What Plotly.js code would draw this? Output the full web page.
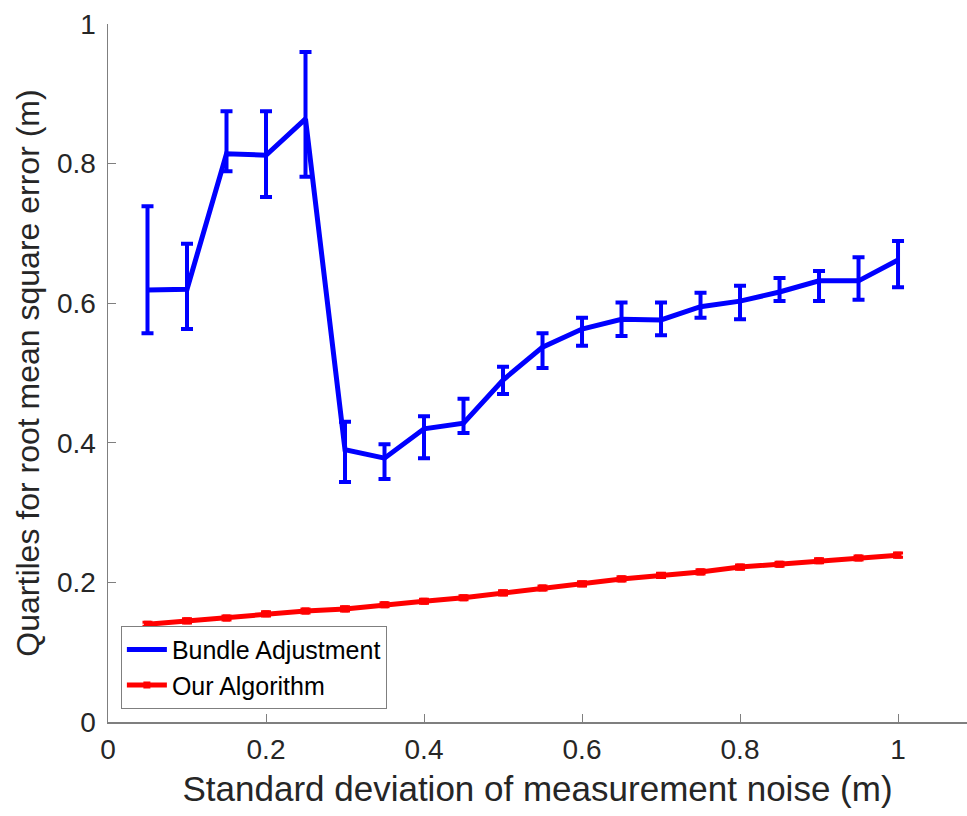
<!DOCTYPE html>
<html>
<head>
<meta charset="utf-8">
<script src="https://cdn.plot.ly/plotly-3.0.1.min.js"></script>
<style>html,body{margin:0;padding:0;background:#fff;}#chart{width:967px;height:816px;}</style>
</head>
<body>
<div id="chart"></div>
<script>
const noise = [0.05,0.10,0.15,0.20,0.25,0.30,0.35,0.40,0.45,0.50,0.55,0.60,0.65,0.70,0.75,0.80,0.85,0.90,0.95,1.00];
const baMedian = [0.619,0.620,0.814,0.812,0.864,0.390,0.378,0.420,0.428,0.490,0.537,0.563,0.577,0.576,0.595,0.603,0.616,0.632,0.632,0.662];
const baUpper  = [0.739,0.685,0.875,0.875,0.960,0.430,0.398,0.438,0.463,0.509,0.557,0.579,0.601,0.601,0.615,0.625,0.636,0.646,0.666,0.689];
const baLower  = [0.557,0.563,0.789,0.752,0.781,0.344,0.348,0.378,0.414,0.470,0.507,0.539,0.553,0.554,0.579,0.577,0.603,0.603,0.605,0.623];
const ourMedian = [0.140,0.145,0.149,0.155,0.159,0.162,0.168,0.173,0.178,0.185,0.192,0.198,0.205,0.210,0.215,0.222,0.226,0.231,0.235,0.239];
const ourUpper  = [0.143,0.148,0.152,0.158,0.162,0.165,0.171,0.176,0.181,0.188,0.195,0.201,0.208,0.213,0.218,0.225,0.229,0.234,0.238,0.242];
const ourLower  = [0.137,0.142,0.146,0.152,0.156,0.159,0.165,0.170,0.175,0.182,0.189,0.195,0.202,0.207,0.212,0.219,0.223,0.228,0.232,0.236];
const xTicks = [0,0.2,0.4,0.6,0.8,1];
const xTickText = ['0','0.2','0.4','0.6','0.8','1'];
const yTicks = [0,0.2,0.4,0.6,0.8,1];
const yTickText = ['0','0.2','0.4','0.6','0.8','1'];

const diff = (a,b)=>a.map((v,i)=>+(v-b[i]).toFixed(4));

const traces = [
  {x: noise, y: baMedian, name: 'Bundle Adjustment', type: 'scatter', mode: 'lines',
   line: {color: '#0000ff', width: 5},
   error_y: {type: 'data', symmetric: false, array: diff(baUpper, baMedian), arrayminus: diff(baMedian, baLower),
             color: '#0000ff', thickness: 4, width: 6}},
  {x: noise, y: ourMedian, name: 'Our Algorithm', type: 'scatter', mode: 'lines+markers',
   line: {color: '#ff0000', width: 5},
   marker: {symbol: 'square', size: 7, color: '#ff0000'},
   error_y: {type: 'data', symmetric: false, array: diff(ourUpper, ourMedian), arrayminus: diff(ourMedian, ourLower),
             color: '#ff0000', thickness: 3, width: 5}}
];

const font = {family: '"Liberation Sans", Arial, Helvetica, sans-serif', color: '#262626'};
const layout = {
  width: 967, height: 816,
  margin: {l: 108, r: 0, t: 24, b: 94},
  paper_bgcolor: '#fff', plot_bgcolor: '#fff',
  font: Object.assign({size: 28}, font),
  showlegend: true,
  legend: {x: 0.015, y: 0.019, xanchor: 'left', yanchor: 'bottom',
           bgcolor: '#fff', bordercolor: '#7f7f7f', borderwidth: 1,
           font: Object.assign({size: 25}, font, {color: '#000'}),
           tracegroupgap: 0, itemwidth: 40},
  xaxis: {range: [0, 1.0873], tickmode: 'array', tickvals: xTicks, ticktext: xTickText,
          ticks: 'inside', ticklen: 8, tickcolor: '#7f7f7f', showline: true, linecolor: '#7f7f7f', linewidth: 1.5,
          showgrid: false, zeroline: false, mirror: false, ticklabelstandoff: 2,
          tickfont: Object.assign({size: 28}, font),
          title: {text: 'Standard deviation of measurement noise (m)', font: Object.assign({size: 35}, font), standoff: 12}},
  yaxis: {range: [0, 1], tickmode: 'array', tickvals: yTicks, ticktext: yTickText,
          ticks: 'inside', ticklen: 8, tickcolor: '#7f7f7f', showline: true, linecolor: '#7f7f7f', linewidth: 1.5,
          showgrid: false, zeroline: false, mirror: false, ticklabelstandoff: 5,
          tickfont: Object.assign({size: 28}, font),
          title: {text: 'Quartiles for root mean square error (m)', font: Object.assign({size: 32}, font), standoff: 8}}
};
Plotly.newPlot('chart', traces, layout, {displayModeBar: false, staticPlot: true});
</script>
</body>
</html>
